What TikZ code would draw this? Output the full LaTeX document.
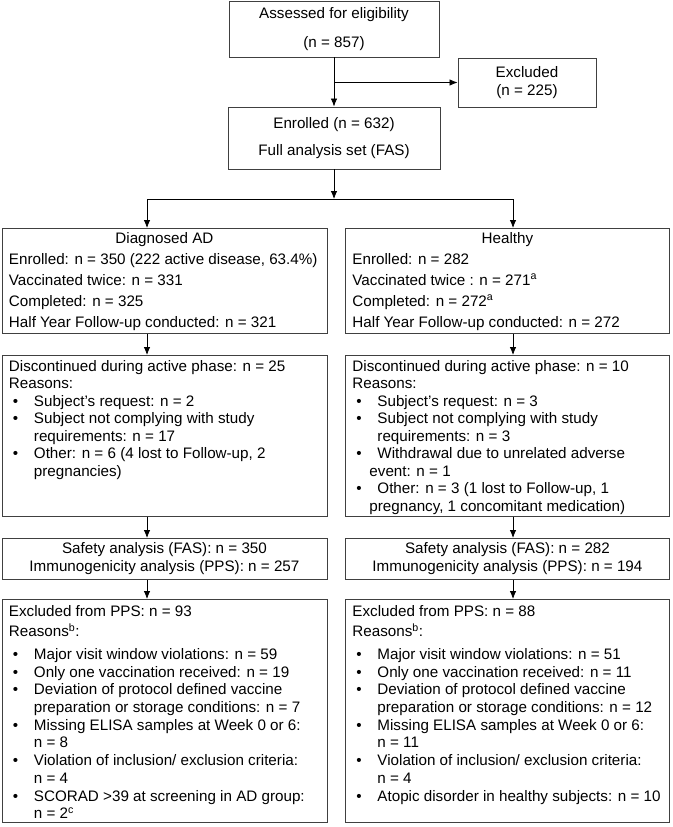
\documentclass[tikz,border=0pt]{standalone}
\usepackage{fontspec}
\setmainfont{Liberation Sans}
\usetikzlibrary{arrows.meta}
\newcommand{\bu}{\makebox[25pt][l]{\hspace{4pt}\textbullet}}
\newcommand{\ind}[1][25pt]{\makebox[#1]{}}
\newcommand{\sps}[1]{\textsuperscript{#1}}

\begin{document}
\begin{tikzpicture}[x=1pt,y=-1pt,
  box/.style={draw=black!75, line width=0.9pt, inner xsep=7pt, inner ysep=0pt, font=\fontsize{15.2}{17.5}\selectfont},
  arr/.style={line width=0.8pt,->,>={Latex[length=8pt,width=6.5pt]}}]
\useasboundingbox (0,0) rectangle (672,827);
\node [box, minimum width=210pt, minimum height=56pt, align=center] (assess) at (334,29) {Assessed for eligibility\\[11.5pt](n = 857)};
\node [box, minimum width=138pt, minimum height=49pt, align=center] (excl) at (527,82.5) {Excluded\\(n = 225)};
\node [box, minimum width=212pt, minimum height=62pt, align=center] (enrol) at (334,138) {Enrolled (n = 632)\\[9.5pt]Full analysis set (FAS)};
\coordinate (jn) at (334,199);
\coordinate (jl) at (147,199);
\coordinate (jr) at (513,199);
\node [box, anchor=north west] (ad1) at (1.5,228) {\parbox[c][105pt][t]{311pt}{\fontsize{15.2}{21}\selectfont
  \centerline{\strut Diagnosed AD}
  Enrolled: n = 350 (222 active disease, 63.4\%)\\
  Vaccinated twice: n = 331\\
  Completed: n = 325\\
  Half Year Follow-up conducted: n = 321}};
\node [box, anchor=north west] (hy1) at (345,228) {\parbox[c][105pt][t]{310pt}{\fontsize{15.2}{21}\selectfont
  \centerline{\strut Healthy}
  Enrolled: n = 282\\
  Vaccinated twice : n = 271\sps{a}\\
  Completed: n = 272\sps{a}\\
  Half Year Follow-up conducted: n = 272}};
\node [box, anchor=north west] (ad2) at (1.5,355) {\parbox[c][161pt][t]{311pt}{\fontsize{15.2}{17.5}\selectfont
  \rule{0pt}{16pt}Discontinued during active phase: n = 25\\
  Reasons:\\
  \bu Subject's request: n = 2\\
  \bu Subject not complying with study\\
  \ind requirements: n = 17\\
  \bu Other: n = 6 (4 lost to Follow-up, 2\\
  \ind pregnancies)}};
\node [box, anchor=north west] (hy2) at (345,355) {\parbox[c][161pt][t]{310pt}{\fontsize{15.2}{17.5}\selectfont
  \rule{0pt}{16pt}Discontinued during active phase: n = 10\\
  Reasons:\\
  \bu Subject's request: n = 3\\
  \bu Subject not complying with study\\
  \ind requirements: n = 3\\
  \bu Withdrawal due to unrelated adverse\\
  \ind[17pt]event: n = 1\\
  \bu Other: n = 3 (1 lost to Follow-up, 1\\
  \ind[17pt]pregnancy, 1 concomitant medication)}};
\node [box, anchor=north west, minimum width=325pt, minimum height=41pt, align=center] (ad3) at (1.5,538) {Safety analysis (FAS): n = 350\\[0.5pt]Immunogenicity analysis (PPS): n = 257};
\node [box, anchor=north west, minimum width=324pt, minimum height=41pt, align=center] (hy3) at (345,538) {Safety analysis (FAS): n = 282\\[0.5pt]Immunogenicity analysis (PPS): n = 194};
\node [box, anchor=north west] (ad4) at (1.5,599) {\parbox[c][223pt][t]{311pt}{\fontsize{15.2}{17.7}\selectfont
  \rule{0pt}{17pt}Excluded from PPS: n = 93\\[2.3pt]
  Reasons\sps{b}:\\[5.3pt]
  \bu Major visit window violations: n = 59\\
  \bu Only one vaccination received: n = 19\\
  \bu Deviation of protocol defined vaccine\\
  \ind preparation or storage conditions: n = 7\\
  \bu Missing ELISA samples at Week 0 or 6:\\
  \ind n = 8\\
  \bu Violation of inclusion/ exclusion criteria:\\
  \ind n = 4\\
  \bu SCORAD >39 at screening in AD group:\\
  \ind n = 2\sps{c}}};
\node [box, anchor=north west] (hy4) at (345,599) {\parbox[c][223pt][t]{310pt}{\fontsize{15.2}{17.7}\selectfont
  \rule{0pt}{17pt}Excluded from PPS: n = 88\\[2.3pt]
  Reasons\sps{b}:\\[5.3pt]
  \bu Major visit window violations: n = 51\\
  \bu Only one vaccination received: n = 11\\
  \bu Deviation of protocol defined vaccine\\
  \ind preparation or storage conditions: n = 12\\
  \bu Missing ELISA samples at Week 0 or 6:\\
  \ind n = 11\\
  \bu Violation of inclusion/ exclusion criteria:\\
  \ind n = 4\\
  \bu Atopic disorder in healthy subjects: n = 10}};
\draw [arr] (assess.south) -- (enrol.north);
\draw [arr] (assess.south |- excl.west) -- (excl.west);
\draw [arr] (enrol.south) -- (jn);
\draw [line width=0.8pt] (jl) -- (jr);
\draw [arr] (jl) -- (jl |- ad1.north);
\draw [arr] (jr) -- (jr |- hy1.north);
\foreach \a/\b in {ad1/ad2,ad2/ad3,ad3/ad4}
  \draw [arr] (\a.south -| jl) -- (\b.north -| jl);
\foreach \a/\b in {hy1/hy2,hy2/hy3,hy3/hy4}
  \draw [arr] (\a.south -| jr) -- (\b.north -| jr);
\end{tikzpicture}
\end{document}
